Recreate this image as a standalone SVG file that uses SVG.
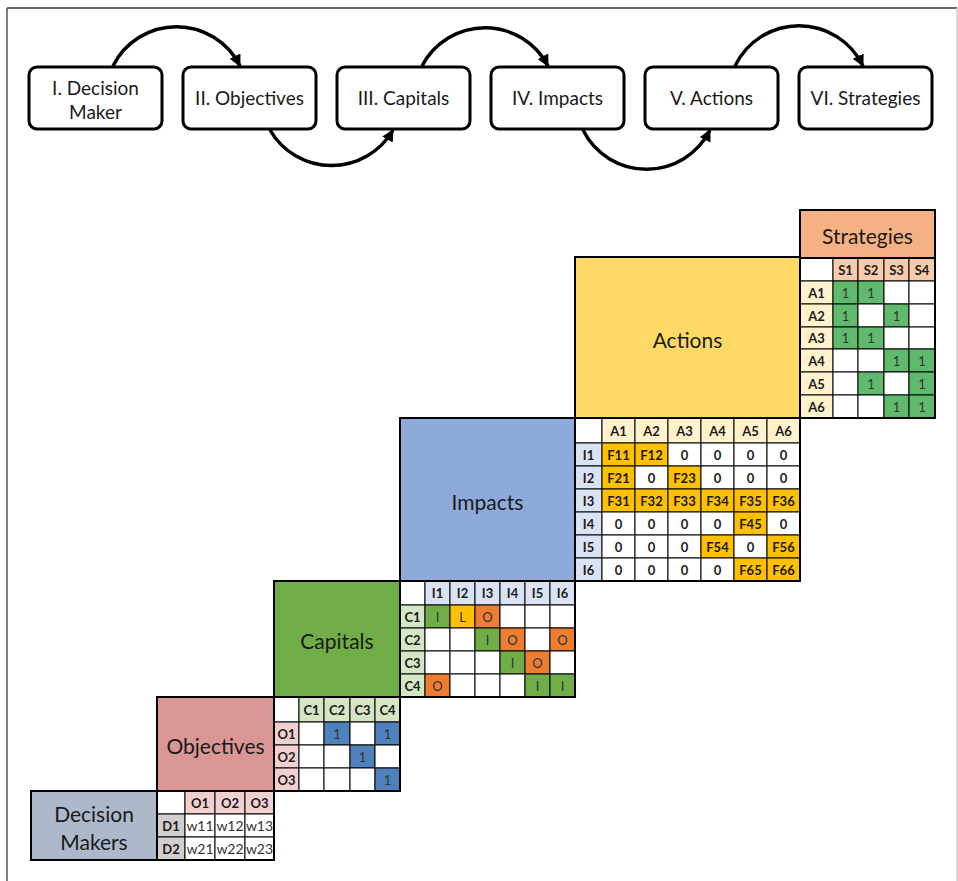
<svg xmlns="http://www.w3.org/2000/svg" width="958" height="881" viewBox="0 0 958 881">
<defs>
<marker id="ah" markerUnits="userSpaceOnUse" markerWidth="14" markerHeight="14" refX="11" refY="6" orient="auto">
<path d="M0,0 L12,6 L0,12 z" fill="#000"/>
</marker>
<style>
text{font-family:Lato,"Liberation Sans",sans-serif;fill:#1a1a1a;text-anchor:middle;dominant-baseline:central}
.step rect{fill:#fff;stroke:#000;stroke-width:3}
.step text{font-size:19px}
.big{stroke:#000;stroke-width:2}
.lbl{font-size:21px}
.c{stroke:#000;stroke-width:1;fill:#fff}
.out{fill:none;stroke:#000;stroke-width:2}
.b{font-size:13px;font-weight:bold}
.n{font-size:13px;fill:#333}
.w{font-size:14px;fill:#333}
.arc{fill:none;stroke:#000;stroke-width:3.5;marker-end:url(#ah)}
</style>
</defs>
<rect x="0" y="0" width="958" height="881" fill="#fff"/>
<g id="frame">
<line x1="7" y1="8" x2="957" y2="8" stroke="#333" stroke-width="1.5"/>
<line x1="7" y1="8" x2="7" y2="881" stroke="#555" stroke-width="1.5"/>
<line x1="957" y1="8" x2="957" y2="881" stroke="#ccc" stroke-width="1.5"/>
</g>

<g id="step1" class="step"><rect x="29" y="67" width="133" height="62" rx="8"/><text x="95.5" y="87">I. Decision</text><text x="95.5" y="111">Maker</text></g>
<g id="step2" class="step"><rect x="183" y="67" width="133" height="62" rx="8"/><text x="249.5" y="97">II. Objectives</text></g>
<g id="step3" class="step"><rect x="337" y="67" width="133" height="62" rx="8"/><text x="403.5" y="97">III. Capitals</text></g>
<g id="step4" class="step"><rect x="491" y="67" width="133" height="62" rx="8"/><text x="557.5" y="97">IV. Impacts</text></g>
<g id="step5" class="step"><rect x="645" y="67" width="133" height="62" rx="8"/><text x="711.5" y="97">V. Actions</text></g>
<g id="step6" class="step"><rect x="799" y="67" width="133" height="62" rx="8"/><text x="865.5" y="97">VI. Strategies</text></g>

<g id="connectors">
<path class="arc" d="M113,66 A71,71 0 0 1 240,66"/>
<path class="arc" d="M270,130 A71,71 0 0 0 393,130"/>
<path class="arc" d="M422,66 A71,71 0 0 1 548,66"/>
<path class="arc" d="M583,130 A71,71 0 0 0 710,130"/>
<path class="arc" d="M735,66 A71,71 0 0 1 863,66"/>
</g>

<!-- Decision makers -->
<g id="dm">
<rect class="big" x="31" y="791" width="126" height="69" fill="#adb9ca"/>
<text class="lbl" x="94" y="813">Decision</text>
<text class="lbl" x="94" y="841">Makers</text>
</g>
<g id="dm-matrix">
<rect class="c" x="157" y="791" width="28" height="23"/>
<rect class="c" x="185" y="791" width="30" height="23" style="fill:#f2d0d0"/>
<rect class="c" x="215" y="791" width="30" height="23" style="fill:#f2d0d0"/>
<rect class="c" x="245" y="791" width="29" height="23" style="fill:#f2d0d0"/>
<rect class="c" x="157" y="814" width="28" height="23" style="fill:#d0cece"/>
<rect class="c" x="157" y="837" width="28" height="23" style="fill:#d0cece"/>
<rect class="c" x="185" y="814" width="30" height="23"/><rect class="c" x="215" y="814" width="30" height="23"/><rect class="c" x="245" y="814" width="29" height="23"/>
<rect class="c" x="185" y="837" width="30" height="23"/><rect class="c" x="215" y="837" width="30" height="23"/><rect class="c" x="245" y="837" width="29" height="23"/>
<rect class="out" x="157" y="791" width="117" height="69"/>
<text class="b" x="200" y="802.5">O1</text><text class="b" x="230" y="802.5">O2</text><text class="b" x="259.5" y="802.5">O3</text>
<text class="b" x="171" y="825.5">D1</text><text class="b" x="171" y="848.5">D2</text>
<text class="w" x="200" y="825.5">w11</text><text class="w" x="230" y="825.5">w12</text><text class="w" x="259.5" y="825.5">w13</text>
<text class="w" x="200" y="848.5">w21</text><text class="w" x="230" y="848.5">w22</text><text class="w" x="259.5" y="848.5">w23</text>
</g>

<!-- Objectives -->
<g id="objectives">
<rect class="big" x="157" y="697" width="117" height="94" fill="#da9694"/>
<text class="lbl" x="215.5" y="745">Objectives</text>
</g>
<g id="obj-matrix">
<rect class="c" x="274" y="697" width="25" height="25"/>
<rect class="c" x="299" y="697" width="25" height="25" style="fill:#d4e6c3"/>
<rect class="c" x="324" y="697" width="26" height="25" style="fill:#d4e6c3"/>
<rect class="c" x="350" y="697" width="25" height="25" style="fill:#d4e6c3"/>
<rect class="c" x="375" y="697" width="25" height="25" style="fill:#d4e6c3"/>
<rect class="c" x="274" y="722" width="25" height="23" style="fill:#f2d0d0"/>
<rect class="c" x="274" y="745" width="25" height="23" style="fill:#f2d0d0"/>
<rect class="c" x="274" y="768" width="25" height="23" style="fill:#f2d0d0"/>
<rect class="c" x="299" y="722" width="25" height="23"/><rect class="c" x="324" y="722" width="26" height="23" style="fill:#4f81bd"/><rect class="c" x="350" y="722" width="25" height="23"/><rect class="c" x="375" y="722" width="25" height="23" style="fill:#4f81bd"/>
<rect class="c" x="299" y="745" width="25" height="23"/><rect class="c" x="324" y="745" width="26" height="23"/><rect class="c" x="350" y="745" width="25" height="23" style="fill:#4f81bd"/><rect class="c" x="375" y="745" width="25" height="23"/>
<rect class="c" x="299" y="768" width="25" height="23"/><rect class="c" x="324" y="768" width="26" height="23"/><rect class="c" x="350" y="768" width="25" height="23"/><rect class="c" x="375" y="768" width="25" height="23" style="fill:#4f81bd"/>
<rect class="out" x="274" y="697" width="126" height="94"/>
<text class="b" x="311.5" y="709.5">C1</text><text class="b" x="337" y="709.5">C2</text><text class="b" x="362.5" y="709.5">C3</text><text class="b" x="387.5" y="709.5">C4</text>
<text class="b" x="286.5" y="733.5">O1</text><text class="b" x="286.5" y="756.5">O2</text><text class="b" x="286.5" y="779.5">O3</text>
<text class="n" x="337" y="733.5">1</text><text class="n" x="387.5" y="733.5">1</text>
<text class="n" x="362.5" y="756.5">1</text>
<text class="n" x="387.5" y="779.5">1</text>
</g>

<!-- Capitals -->
<g id="capitals">
<rect class="big" x="274" y="581" width="126" height="116" fill="#70ad47"/>
<text class="lbl" x="337" y="640">Capitals</text>
</g>
<g id="cap-matrix">
<rect class="c" x="400" y="581" width="25" height="24"/>
<rect class="c" x="425" y="581" width="25" height="24" style="fill:#dae3f3"/><rect class="c" x="450" y="581" width="25" height="24" style="fill:#dae3f3"/><rect class="c" x="475" y="581" width="25" height="24" style="fill:#dae3f3"/><rect class="c" x="500" y="581" width="25" height="24" style="fill:#dae3f3"/><rect class="c" x="525" y="581" width="25" height="24" style="fill:#dae3f3"/><rect class="c" x="550" y="581" width="25" height="24" style="fill:#dae3f3"/>
<rect class="c" x="400" y="605" width="25" height="23" style="fill:#d4e6c3"/><rect class="c" x="400" y="628" width="25" height="23" style="fill:#d4e6c3"/><rect class="c" x="400" y="651" width="25" height="23" style="fill:#d4e6c3"/><rect class="c" x="400" y="674" width="25" height="23" style="fill:#d4e6c3"/>
<rect class="c" x="425" y="605" width="25" height="23" style="fill:#70ad47"/><rect class="c" x="450" y="605" width="25" height="23" style="fill:#ffc000"/><rect class="c" x="475" y="605" width="25" height="23" style="fill:#ed7d31"/><rect class="c" x="500" y="605" width="25" height="23"/><rect class="c" x="525" y="605" width="25" height="23"/><rect class="c" x="550" y="605" width="25" height="23"/>
<rect class="c" x="425" y="628" width="25" height="23"/><rect class="c" x="450" y="628" width="25" height="23"/><rect class="c" x="475" y="628" width="25" height="23" style="fill:#70ad47"/><rect class="c" x="500" y="628" width="25" height="23" style="fill:#ed7d31"/><rect class="c" x="525" y="628" width="25" height="23"/><rect class="c" x="550" y="628" width="25" height="23" style="fill:#ed7d31"/>
<rect class="c" x="425" y="651" width="25" height="23"/><rect class="c" x="450" y="651" width="25" height="23"/><rect class="c" x="475" y="651" width="25" height="23"/><rect class="c" x="500" y="651" width="25" height="23" style="fill:#70ad47"/><rect class="c" x="525" y="651" width="25" height="23" style="fill:#ed7d31"/><rect class="c" x="550" y="651" width="25" height="23"/>
<rect class="c" x="425" y="674" width="25" height="23" style="fill:#ed7d31"/><rect class="c" x="450" y="674" width="25" height="23"/><rect class="c" x="475" y="674" width="25" height="23"/><rect class="c" x="500" y="674" width="25" height="23"/><rect class="c" x="525" y="674" width="25" height="23" style="fill:#70ad47"/><rect class="c" x="550" y="674" width="25" height="23" style="fill:#70ad47"/>
<rect class="out" x="400" y="581" width="175" height="116"/>
<text class="b" x="437.5" y="593">I1</text><text class="b" x="462.5" y="593">I2</text><text class="b" x="487.5" y="593">I3</text><text class="b" x="512.5" y="593">I4</text><text class="b" x="537.5" y="593">I5</text><text class="b" x="562.5" y="593">I6</text>
<text class="b" x="412.5" y="616.5">C1</text><text class="b" x="412.5" y="639.5">C2</text><text class="b" x="412.5" y="662.5">C3</text><text class="b" x="412.5" y="685.5">C4</text>
<text class="n" x="437.5" y="616.5">I</text><text class="n" x="462.5" y="616.5">L</text><text class="n" x="487.5" y="616.5">O</text>
<text class="n" x="487.5" y="639.5">I</text><text class="n" x="512.5" y="639.5">O</text><text class="n" x="562.5" y="639.5">O</text>
<text class="n" x="512.5" y="662.5">I</text><text class="n" x="537.5" y="662.5">O</text>
<text class="n" x="437.5" y="685.5">O</text><text class="n" x="537.5" y="685.5">I</text><text class="n" x="562.5" y="685.5">I</text>
</g>

<!-- Impacts -->
<g id="impacts">
<rect class="big" x="400" y="418" width="175" height="163" fill="#8eaadb"/>
<text class="lbl" x="487.5" y="501">Impacts</text>
</g>
<g id="imp-matrix">
<rect class="c" x="575" y="418" width="27" height="25"/>
<rect class="c" x="602" y="418" width="33" height="25" style="fill:#fff2cc"/><rect class="c" x="635" y="418" width="33" height="25" style="fill:#fff2cc"/><rect class="c" x="668" y="418" width="33" height="25" style="fill:#fff2cc"/><rect class="c" x="701" y="418" width="33" height="25" style="fill:#fff2cc"/><rect class="c" x="734" y="418" width="33" height="25" style="fill:#fff2cc"/><rect class="c" x="767" y="418" width="33" height="25" style="fill:#fff2cc"/>
<rect class="c" x="575" y="443" width="27" height="23" style="fill:#dae3f3"/><rect class="c" x="575" y="466" width="27" height="23" style="fill:#dae3f3"/><rect class="c" x="575" y="489" width="27" height="23" style="fill:#dae3f3"/><rect class="c" x="575" y="512" width="27" height="23" style="fill:#dae3f3"/><rect class="c" x="575" y="535" width="27" height="23" style="fill:#dae3f3"/><rect class="c" x="575" y="558" width="27" height="23" style="fill:#dae3f3"/>
<rect class="c" x="602" y="443" width="33" height="23" style="fill:#ffc000"/><rect class="c" x="635" y="443" width="33" height="23" style="fill:#ffc000"/><rect class="c" x="668" y="443" width="33" height="23"/><rect class="c" x="701" y="443" width="33" height="23"/><rect class="c" x="734" y="443" width="33" height="23"/><rect class="c" x="767" y="443" width="33" height="23"/>
<rect class="c" x="602" y="466" width="33" height="23" style="fill:#ffc000"/><rect class="c" x="635" y="466" width="33" height="23"/><rect class="c" x="668" y="466" width="33" height="23" style="fill:#ffc000"/><rect class="c" x="701" y="466" width="33" height="23"/><rect class="c" x="734" y="466" width="33" height="23"/><rect class="c" x="767" y="466" width="33" height="23"/>
<rect class="c" x="602" y="489" width="33" height="23" style="fill:#ffc000"/><rect class="c" x="635" y="489" width="33" height="23" style="fill:#ffc000"/><rect class="c" x="668" y="489" width="33" height="23" style="fill:#ffc000"/><rect class="c" x="701" y="489" width="33" height="23" style="fill:#ffc000"/><rect class="c" x="734" y="489" width="33" height="23" style="fill:#ffc000"/><rect class="c" x="767" y="489" width="33" height="23" style="fill:#ffc000"/>
<rect class="c" x="602" y="512" width="33" height="23"/><rect class="c" x="635" y="512" width="33" height="23"/><rect class="c" x="668" y="512" width="33" height="23"/><rect class="c" x="701" y="512" width="33" height="23"/><rect class="c" x="734" y="512" width="33" height="23" style="fill:#ffc000"/><rect class="c" x="767" y="512" width="33" height="23"/>
<rect class="c" x="602" y="535" width="33" height="23"/><rect class="c" x="635" y="535" width="33" height="23"/><rect class="c" x="668" y="535" width="33" height="23"/><rect class="c" x="701" y="535" width="33" height="23" style="fill:#ffc000"/><rect class="c" x="734" y="535" width="33" height="23"/><rect class="c" x="767" y="535" width="33" height="23" style="fill:#ffc000"/>
<rect class="c" x="602" y="558" width="33" height="23"/><rect class="c" x="635" y="558" width="33" height="23"/><rect class="c" x="668" y="558" width="33" height="23"/><rect class="c" x="701" y="558" width="33" height="23"/><rect class="c" x="734" y="558" width="33" height="23" style="fill:#ffc000"/><rect class="c" x="767" y="558" width="33" height="23" style="fill:#ffc000"/>
<rect class="out" x="575" y="418" width="225" height="163"/>
<text class="b" x="618.5" y="430.5">A1</text><text class="b" x="651.5" y="430.5">A2</text><text class="b" x="684.5" y="430.5">A3</text><text class="b" x="717.5" y="430.5">A4</text><text class="b" x="750.5" y="430.5">A5</text><text class="b" x="783.5" y="430.5">A6</text>
<text class="b" x="588.5" y="454.5">I1</text><text class="b" x="588.5" y="477.5">I2</text><text class="b" x="588.5" y="500.5">I3</text><text class="b" x="588.5" y="523.5">I4</text><text class="b" x="588.5" y="546.5">I5</text><text class="b" x="588.5" y="569.5">I6</text>
<text class="b" x="618.5" y="455">F11</text><text class="b" x="651.5" y="455">F12</text><text class="b" x="684.5" y="455">0</text><text class="b" x="717.5" y="455">0</text><text class="b" x="750.5" y="455">0</text><text class="b" x="783.5" y="455">0</text>
<text class="b" x="618.5" y="478">F21</text><text class="b" x="651.5" y="478">0</text><text class="b" x="684.5" y="478">F23</text><text class="b" x="717.5" y="478">0</text><text class="b" x="750.5" y="478">0</text><text class="b" x="783.5" y="478">0</text>
<text class="b" x="618.5" y="501">F31</text><text class="b" x="651.5" y="501">F32</text><text class="b" x="684.5" y="501">F33</text><text class="b" x="717.5" y="501">F34</text><text class="b" x="750.5" y="501">F35</text><text class="b" x="783.5" y="501">F36</text>
<text class="b" x="618.5" y="524">0</text><text class="b" x="651.5" y="524">0</text><text class="b" x="684.5" y="524">0</text><text class="b" x="717.5" y="524">0</text><text class="b" x="750.5" y="524">F45</text><text class="b" x="783.5" y="524">0</text>
<text class="b" x="618.5" y="547">0</text><text class="b" x="651.5" y="547">0</text><text class="b" x="684.5" y="547">0</text><text class="b" x="717.5" y="547">F54</text><text class="b" x="750.5" y="547">0</text><text class="b" x="783.5" y="547">F56</text>
<text class="b" x="618.5" y="570">0</text><text class="b" x="651.5" y="570">0</text><text class="b" x="684.5" y="570">0</text><text class="b" x="717.5" y="570">0</text><text class="b" x="750.5" y="570">F65</text><text class="b" x="783.5" y="570">F66</text>
</g>

<!-- Actions -->
<g id="actions">
<rect class="big" x="575" y="257" width="225" height="161" fill="#ffd966"/>
<text class="lbl" x="687.5" y="339">Actions</text>
</g>

<!-- Strategies -->
<g id="strategies">
<rect class="big" x="800" y="210" width="135" height="48" fill="#f4b183"/>
<text class="lbl" x="867.5" y="235">Strategies</text>
</g>
<g id="str-matrix">
<rect class="c" x="800" y="258" width="33" height="23"/>
<rect class="c" x="833" y="258" width="25" height="23" style="fill:#f8cbad"/><rect class="c" x="858" y="258" width="26" height="23" style="fill:#f8cbad"/><rect class="c" x="884" y="258" width="25" height="23" style="fill:#f8cbad"/><rect class="c" x="909" y="258" width="26" height="23" style="fill:#f8cbad"/>
<rect class="c" x="800" y="281" width="33" height="23" style="fill:#fff2cc"/><rect class="c" x="800" y="304" width="33" height="23" style="fill:#fff2cc"/><rect class="c" x="800" y="327" width="33" height="22" style="fill:#fff2cc"/><rect class="c" x="800" y="349" width="33" height="23" style="fill:#fff2cc"/><rect class="c" x="800" y="372" width="33" height="23" style="fill:#fff2cc"/><rect class="c" x="800" y="395" width="33" height="23" style="fill:#fff2cc"/>
<rect class="c" x="833" y="281" width="25" height="23" style="fill:#5fba6e"/><rect class="c" x="858" y="281" width="26" height="23" style="fill:#5fba6e"/><rect class="c" x="884" y="281" width="25" height="23"/><rect class="c" x="909" y="281" width="26" height="23"/>
<rect class="c" x="833" y="304" width="25" height="23" style="fill:#5fba6e"/><rect class="c" x="858" y="304" width="26" height="23"/><rect class="c" x="884" y="304" width="25" height="23" style="fill:#5fba6e"/><rect class="c" x="909" y="304" width="26" height="23"/>
<rect class="c" x="833" y="327" width="25" height="22" style="fill:#5fba6e"/><rect class="c" x="858" y="327" width="26" height="22" style="fill:#5fba6e"/><rect class="c" x="884" y="327" width="25" height="22"/><rect class="c" x="909" y="327" width="26" height="22"/>
<rect class="c" x="833" y="349" width="25" height="23"/><rect class="c" x="858" y="349" width="26" height="23"/><rect class="c" x="884" y="349" width="25" height="23" style="fill:#5fba6e"/><rect class="c" x="909" y="349" width="26" height="23" style="fill:#5fba6e"/>
<rect class="c" x="833" y="372" width="25" height="23"/><rect class="c" x="858" y="372" width="26" height="23" style="fill:#5fba6e"/><rect class="c" x="884" y="372" width="25" height="23"/><rect class="c" x="909" y="372" width="26" height="23" style="fill:#5fba6e"/>
<rect class="c" x="833" y="395" width="25" height="23"/><rect class="c" x="858" y="395" width="26" height="23"/><rect class="c" x="884" y="395" width="25" height="23" style="fill:#5fba6e"/><rect class="c" x="909" y="395" width="26" height="23" style="fill:#5fba6e"/>
<rect class="out" x="800" y="258" width="135" height="160"/>
<text class="b" x="845.5" y="269.5">S1</text><text class="b" x="871" y="269.5">S2</text><text class="b" x="896.5" y="269.5">S3</text><text class="b" x="922" y="269.5">S4</text>
<text class="b" x="816.5" y="292.5">A1</text><text class="b" x="816.5" y="315.5">A2</text><text class="b" x="816.5" y="338">A3</text><text class="b" x="816.5" y="360.5">A4</text><text class="b" x="816.5" y="383.5">A5</text><text class="b" x="816.5" y="406.5">A6</text>
<text class="n" x="845.5" y="292.5">1</text><text class="n" x="871" y="292.5">1</text>
<text class="n" x="845.5" y="315.5">1</text><text class="n" x="896.5" y="315.5">1</text>
<text class="n" x="845.5" y="338">1</text><text class="n" x="871" y="338">1</text>
<text class="n" x="896.5" y="360.5">1</text><text class="n" x="922" y="360.5">1</text>
<text class="n" x="871" y="383.5">1</text><text class="n" x="922" y="383.5">1</text>
<text class="n" x="896.5" y="406.5">1</text><text class="n" x="922" y="406.5">1</text>
</g>
</svg>
